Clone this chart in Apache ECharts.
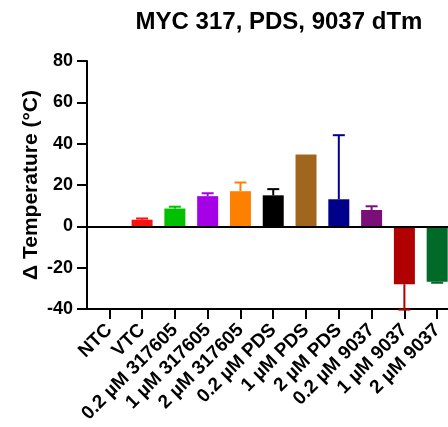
<!DOCTYPE html>
<html><head><meta charset="utf-8">
<script src="https://cdn.jsdelivr.net/npm/echarts@6/dist/echarts.min.js"></script>
<style>html,body{margin:0;padding:0;background:#fff}#c{width:448px;height:427px}</style>
</head><body><div id="c"></div>
<script>
const categories = ['NTC','VTC','0.2 µM 317605','1 µM 317605','2 µM 317605','0.2 µM PDS','1 µM PDS','2 µM PDS','0.2 µM 9037','1 µM 9037','2 µM 9037'];
const values = [null, 3.2, 8.6, 14.6, 17.0, 15.0, 34.7, 13.1, 7.9, -28.0, -26.8];
const errors = [null, 0.6, 0.9, 1.4, 4.2, 3.0, 0, 31.0, 1.8, 12.3, 0.5];
const colors = ['#000000','#ff1010','#00c000','#a600e6','#ff8000','#000000','#a0661e','#00008b','#7a0f7a','#b00000','#006a28'];
const yTicks = [-40,-20,0,20,40,60,80];

const FONT = 'Liberation Sans, Arial, sans-serif';
const idx = categories.map((_, i) => i);
const chart = echarts.init(document.getElementById('c'));
chart.setOption({
  animation: false,
  title: {text: 'MYC 317, PDS, 9037 dTm', left: 274, textAlign: 'center', top: 5,
    textStyle: {fontFamily: FONT, fontWeight: 'bold', fontSize: 24, color: '#000'}},
  grid: {left: 87, right: 0, top: 61, bottom: 118, outerBoundsMode: 'none'},
  xAxis: {type: 'value', min: -0.68, max: 10.33,
    splitLine: {show: false},
    axisLine: {onZero: false, lineStyle: {color: '#000', width: 2}},
    axisTick: {show: true, inside: false, customValues: idx, length: 10, lineStyle: {color: '#000', width: 2}},
    axisLabel: {customValues: idx, rotate: 45, margin: 18, formatter: v => categories[Math.round(v)],
      fontFamily: FONT, fontWeight: 'bold', fontSize: 19, color: '#000'}},
  yAxis: {type: 'value', min: yTicks[0], max: yTicks[yTicks.length-1], interval: 20,
    name: 'Δ Temperature (°C)', nameLocation: 'middle', nameGap: 45, nameRotate: 90, nameMoveOverlap: false,
    nameTextStyle: {fontFamily: FONT, fontWeight: 'bold', fontSize: 21, color: '#000'},
    splitLine: {show: false},
    axisLine: {show: true, onZero: false, lineStyle: {color: '#000', width: 2}},
    axisTick: {show: true, inside: false, length: 10, lineStyle: {color: '#000', width: 2}},
    axisLabel: {fontFamily: FONT, fontWeight: 'bold', fontSize: 18, color: '#000', margin: 14}},
  series: [
    {type: 'bar', barWidth: 21,
     data: values.map((v, i) => ({value: [i, v], itemStyle: {color: colors[i]}})),
     markLine: {silent: true, symbol: 'none', label: {show: false},
       lineStyle: {color: '#000', width: 2, type: 'solid'}, data: [{yAxis: 0}]}},
    {type: 'custom', z: 3,
     data: values.map((v, i) => [i, v, errors[i]]),
     renderItem: (params, api) => {
       const i = api.value(0), v = api.value(1), e = api.value(2);
       if (v == null || isNaN(v) || !e) return;
       const end = v >= 0 ? v + e : v - e;
       const p0 = api.coord([i, v]), p1 = api.coord([i, end]);
       const st = {stroke: colors[i], lineWidth: 2};
       return {type: 'group', children: [
         {type: 'line', shape: {x1: p0[0], y1: p0[1], x2: p1[0], y2: p1[1]}, style: st},
         {type: 'line', shape: {x1: p1[0]-6, y1: p1[1], x2: p1[0]+6, y2: p1[1]}, style: st}
       ]};
     }}
  ]
});
</script></body></html>
